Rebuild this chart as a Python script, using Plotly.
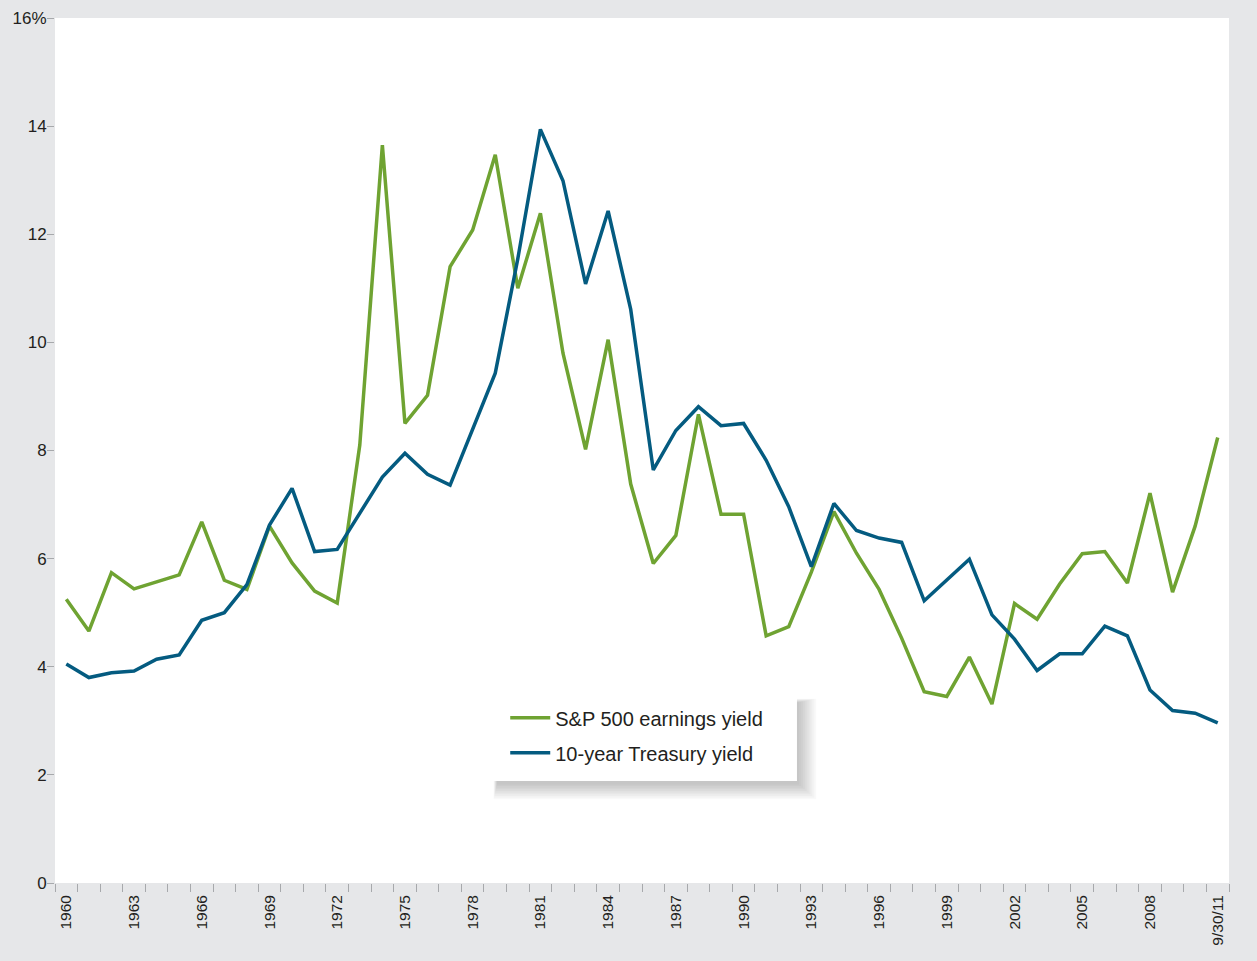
import plotly.graph_objects as go

years = list(range(1960, 2012))

sp500_earnings_yield = [
    5.25, 4.66, 5.74, 5.44, 5.57, 5.70, 6.68, 5.60, 5.43, 6.60,
    5.92, 5.40, 5.18, 8.10, 13.65, 8.50, 9.02, 11.40, 12.08, 13.47,
    11.00, 12.39, 9.80, 8.02, 10.05, 7.38, 5.91, 6.43, 8.67, 6.82,
    6.82, 4.57, 4.74, 5.75, 6.87, 6.10, 5.43, 4.53, 3.54, 3.45,
    4.18, 3.31, 5.17, 4.88, 5.53, 6.09, 6.13, 5.55, 7.21, 5.38,
    6.60, 8.24,
]

treasury_10y_yield = [
    4.05, 3.80, 3.89, 3.92, 4.14, 4.22, 4.86, 5.00, 5.52, 6.62,
    7.30, 6.13, 6.17, 6.83, 7.51, 7.95, 7.56, 7.36, 8.39, 9.43,
    11.55, 13.94, 12.99, 11.08, 12.43, 10.61, 7.64, 8.37, 8.81, 8.46,
    8.50, 7.82, 6.96, 5.85, 7.02, 6.52, 6.38, 6.30, 5.22, 5.60,
    5.99, 4.96, 4.51, 3.93, 4.24, 4.24, 4.75, 4.57, 3.57, 3.19,
    3.14, 2.96,
]

label_years = list(range(1960, 2012, 3))
label_text = [str(y) for y in label_years[:-1]] + ["9/30/11"]

y_ticks = [0, 2, 4, 6, 8, 10, 12, 14, 16]
y_text = ["0", "2", "4", "6", "8", "10", "12", "14", "16%"]

GREEN = "#6fa332"
BLUE = "#045b80"
BG = "#e6e7e9"
TXT = "#231f20"

fig = go.Figure()
fig.add_trace(go.Scatter(
    x=years, y=sp500_earnings_yield, mode="lines", name="S&P 500 earnings yield",
    line=dict(color=GREEN, width=3.5), legendgroup="a",
))
fig.add_trace(go.Scatter(
    x=years, y=treasury_10y_yield, mode="lines", name="10-year Treasury yield",
    line=dict(color=BLUE, width=3.5), legendgroup="b",
))

# legend box with soft drop shadow (offset down/right)
bx0, bx1 = 0.3705, 0.632
by0, by1 = 0.118, 0.2208
for i in range(10):
    d = i * 0.0016
    fig.add_shape(type="rect", xref="paper", yref="paper",
                  x0=bx0 + 0.006 - d * 0.2, x1=bx1 + 0.002 + d,
                  y0=by0 - 0.004 - d * 1.2, y1=by1 - 0.012 + d * 0.3,
                  fillcolor="black", opacity=0.022, line=dict(width=0), layer="above")
fig.add_shape(type="rect", xref="paper", yref="paper",
              x0=bx0, x1=bx1, y0=by0, y1=by1,
              fillcolor="white", line=dict(width=0), layer="above")

fig.update_layout(
    width=1257, height=961,
    margin=dict(l=55, r=28, t=18, b=78, autoexpand=False),
    paper_bgcolor=BG, plot_bgcolor="white",
    font=dict(family="Liberation Sans, Arial, sans-serif", color=TXT, size=16),
    showlegend=True,
    legend=dict(
        x=0.3835, y=0.2135, xanchor="left", yanchor="top",
        bgcolor="rgba(0,0,0,0)", borderwidth=0,
        font=dict(size=20, color=TXT),
        traceorder="grouped", tracegroupgap=6, itemwidth=40,
    ),
    xaxis=dict(
        range=[1959.5, 2011.5], showgrid=False, zeroline=False, showline=False,
        automargin=False,
        tickmode="array", tickvals=label_years, ticktext=label_text,
        ticks="", tickangle=-90, tickfont=dict(size=15.5, color=TXT),
        ticklabelstandoff=8,
        minor=dict(ticks="outside", tick0=1959.5, dtick=1, ticklen=8,
                   tickcolor="#a7a9ac", tickwidth=1, showgrid=False),
    ),
    yaxis=dict(
        range=[0, 16], showgrid=False, zeroline=False, showline=False,
        automargin=False,
        tickmode="array", tickvals=y_ticks, ticktext=y_text,
        ticks="outside", ticklen=7, tickcolor="#a7a9ac", tickwidth=1,
        tickfont=dict(size=17, color=TXT), ticklabelstandoff=-3,
    ),
)

fig.write_html("out.html")
